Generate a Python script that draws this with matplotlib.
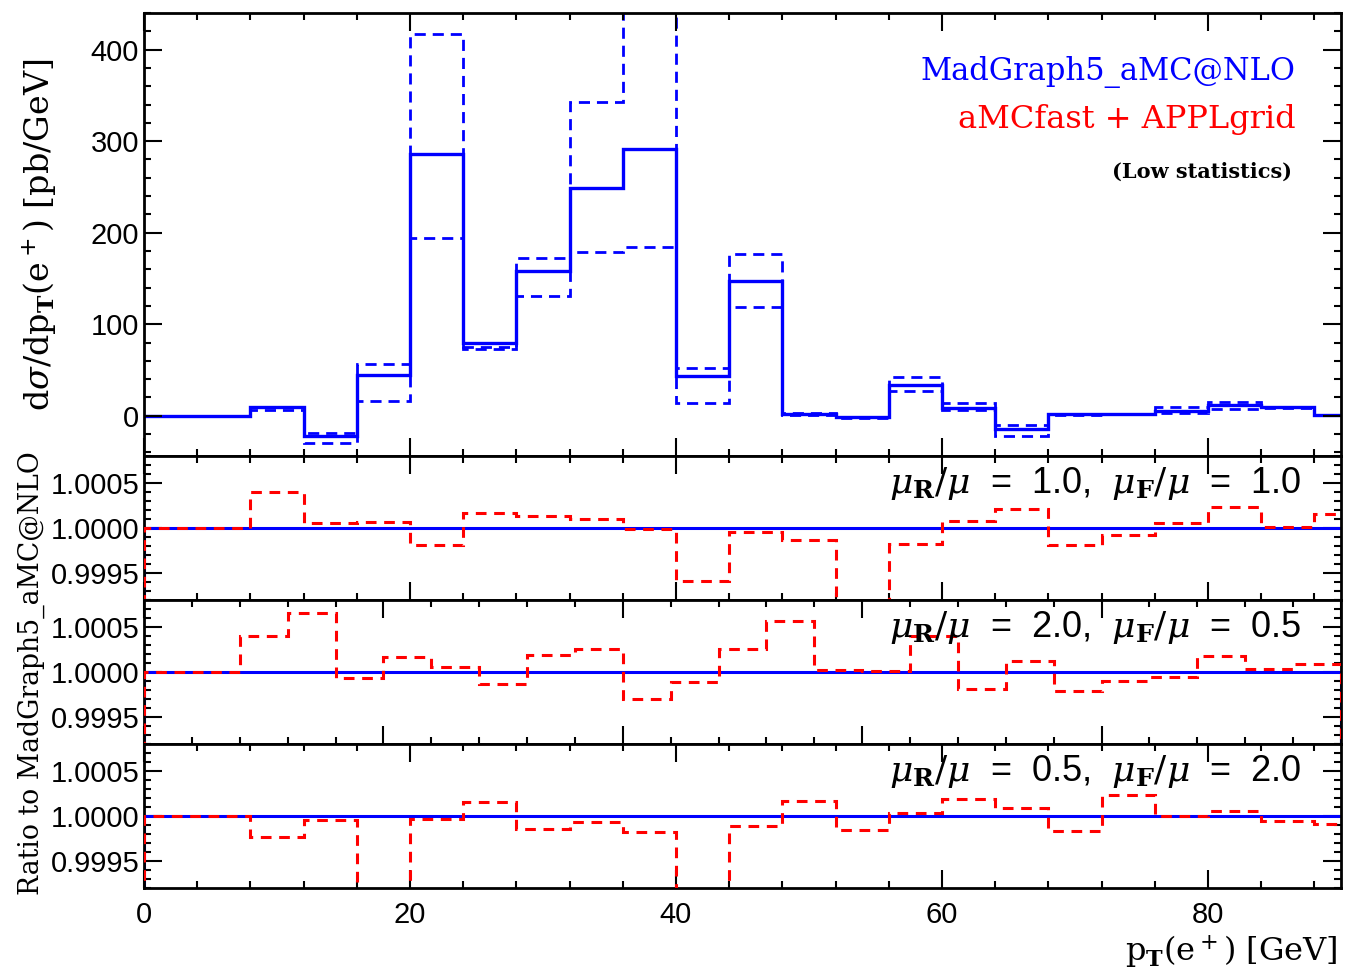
import numpy as np
import matplotlib
matplotlib.use("Agg")
from matplotlib import pyplot as plt
from matplotlib.ticker import MultipleLocator, FixedLocator

# bin edges (GeV), 4 GeV bins
edges = np.arange(0, 93, 4)          # 0..92, 23 bins
edges_wide = np.arange(0, 101, 4)    # 0..100, 25 bins (middle ratio panel)

# d sigma / d pT [pb/GeV]: central scale and two scale variations
central = [0, 0, 9, -22, 45, 286, 80, 158, 249, 291, 43, 147, 2, -1, 34, 8.5,
           -14, 1.5, 2, 5, 12, 9, 0.5]
var_up = [0, 0, 9.5, -19, 56, 417, 75, 172, 343, 480, 52, 177, 3, -1, 42, 14,
          -10, 2, 2, 10, 15, 10, 0.5]
var_down = [0, 0, 6, -30, 16, 194, 73, 131, 179, 184, 14, 119, 1, -2, 27, 6,
            -22, 1, 1.5, 3, 7, 8, 0.5]

# ratio aMCfast+APPLgrid / MadGraph5_aMC@NLO
ratio_11 = [1.0, 1.0, 1.0004, 1.000055, 1.00007, 0.999815, 1.000167, 1.00013,
            1.0001, 0.999993, 0.999415, 0.999955, 0.999863, 0.998, 0.999822,
            1.00008, 1.00021, 0.999815, 0.999922, 1.00005, 1.000237, 1.00001,
            1.00015]
ratio_205 = [1.0, 1.0, 1.0004, 1.000656, 0.999933, 1.00017, 1.000052, 0.999867,
             1.000185, 1.00026, 0.999704, 0.99989, 1.00026, 1.00057, 1.000022,
             1.000015, 1.000396, 0.99981, 1.000126, 0.999793, 0.999896,
             0.999948, 1.000178, 1.000037, 1.000089]
ratio_052 = [1.0, 1.0, 0.99977, 0.999956, 0.998, 0.99997, 1.00016, 0.999856,
             0.99993, 0.999822, 0.998, 0.99989, 1.00017, 0.999845, 1.00003,
             1.000185, 1.000085, 0.999837, 1.000233, 1.0, 1.000055, 0.999945,
             0.99991]

panel_labels = [r"$\mu_\mathbf{R}/\mu$  =  1.0,  $\mu_\mathbf{F}/\mu$  =  1.0",
                r"$\mu_\mathbf{R}/\mu$  =  2.0,  $\mu_\mathbf{F}/\mu$  =  0.5",
                r"$\mu_\mathbf{R}/\mu$  =  0.5,  $\mu_\mathbf{F}/\mu$  =  2.0"]

plt.rcParams["mathtext.fontset"] = "custom"
plt.rcParams["mathtext.rm"] = "DejaVu Serif"
plt.rcParams["mathtext.it"] = "DejaVu Serif:italic"
plt.rcParams["mathtext.bf"] = "DejaVu Serif:bold"
plt.rcParams["font.family"] = "Liberation Sans"
plt.rcParams["axes.linewidth"] = 2.0

W, H = 1348, 971
fig = plt.figure(figsize=(W / 100, H / 100), dpi=100)


def px_axes(top, bottom):
    return fig.add_axes([144 / W, (H - bottom) / H, 1197 / W, (bottom - top) / H])


def style(ax):
    ax.tick_params(which="both", direction="in", top=True, right=True,
                   width=1.5, labelsize=21, colors="black")
    ax.tick_params(which="major", length=13)
    ax.tick_params(which="minor", length=5)
    ax.xaxis.set_major_locator(MultipleLocator(20))
    ax.xaxis.set_minor_locator(MultipleLocator(4))


# top panel
ax0 = px_axes(13, 456)
ax0.stairs(central, edges, color="blue", lw=2.4)
ax0.stairs(var_up, edges, color="blue", lw=2.0, ls=(0, (4, 2.5)))
ax0.stairs(var_down, edges, color="blue", lw=2.0, ls=(0, (4, 2.5)))
ax0.set_xlim(0, 90)
ax0.set_ylim(-44, 440)
style(ax0)
ax0.yaxis.set_major_locator(MultipleLocator(100))
ax0.yaxis.set_minor_locator(MultipleLocator(20))
ax0.tick_params(labelbottom=False)
ax0.text(0.9624, 0.867, "MadGraph5_aMC@NLO", transform=ax0.transAxes,
         ha="right", va="center", color="blue", family="DejaVu Serif",
         fontsize=22)
ax0.text(0.9624, 0.7585, "aMCfast + APPLgrid", transform=ax0.transAxes,
         ha="right", va="center", color="red", family="DejaVu Serif",
         fontsize=23)
ax0.text(0.959, 0.641, "(Low statistics)", transform=ax0.transAxes,
         ha="right", va="center", color="black", family="DejaVu Serif",
         fontweight="bold", fontsize=15)

# ratio panels
ratios = [ratio_11, ratio_205, ratio_052]
tops = [456, 600, 744]
for i, (r, top) in enumerate(zip(ratios, tops)):
    ax = px_axes(top, top + 144)
    e = edges_wide if i == 1 else edges
    ax.stairs(np.ones(len(e) - 1), e, baseline=0, color="blue", lw=2.2, zorder=2)
    ax.stairs(r, e, baseline=0, color="red", lw=2.2, ls=(0, (3.5, 2.5)), zorder=3)
    ax.set_xlim(0, 100 if i == 1 else 90)
    ax.set_ylim(0.9992, 1.0008)
    style(ax)
    ax.yaxis.set_major_locator(FixedLocator([0.9995, 1.0, 1.0005]))
    ax.yaxis.set_minor_locator(MultipleLocator(0.0001))
    ax.set_yticklabels(["0.9995", "1.0000", "1.0005"])
    ax.text(0.9674, 0.8125, panel_labels[i], transform=ax.transAxes,
            ha="right", va="center", fontsize=26, family="Liberation Sans")
    if i < 2:
        ax.tick_params(labelbottom=False)
    else:
        ax.tick_params(axis="x", pad=9)

fig.text(0.0297, 0.758, r"d$\sigma$/dp$_\mathbf{T}$(e$^+$) [pb/GeV]",
         rotation=90, ha="center", va="center", family="DejaVu Serif",
         fontsize=24)
fig.text(0.0235, 0.307, "Ratio to MadGraph5_aMC@NLO", rotation=90,
         ha="center", va="center", family="DejaVu Serif", fontsize=19.2)
fig.text(0.9926, 0.0196, r"p$_\mathbf{T}$(e$^+$) [GeV]", ha="right",
         va="center", family="DejaVu Serif", fontsize=23)

fig.savefig("out.png", dpi=100)
